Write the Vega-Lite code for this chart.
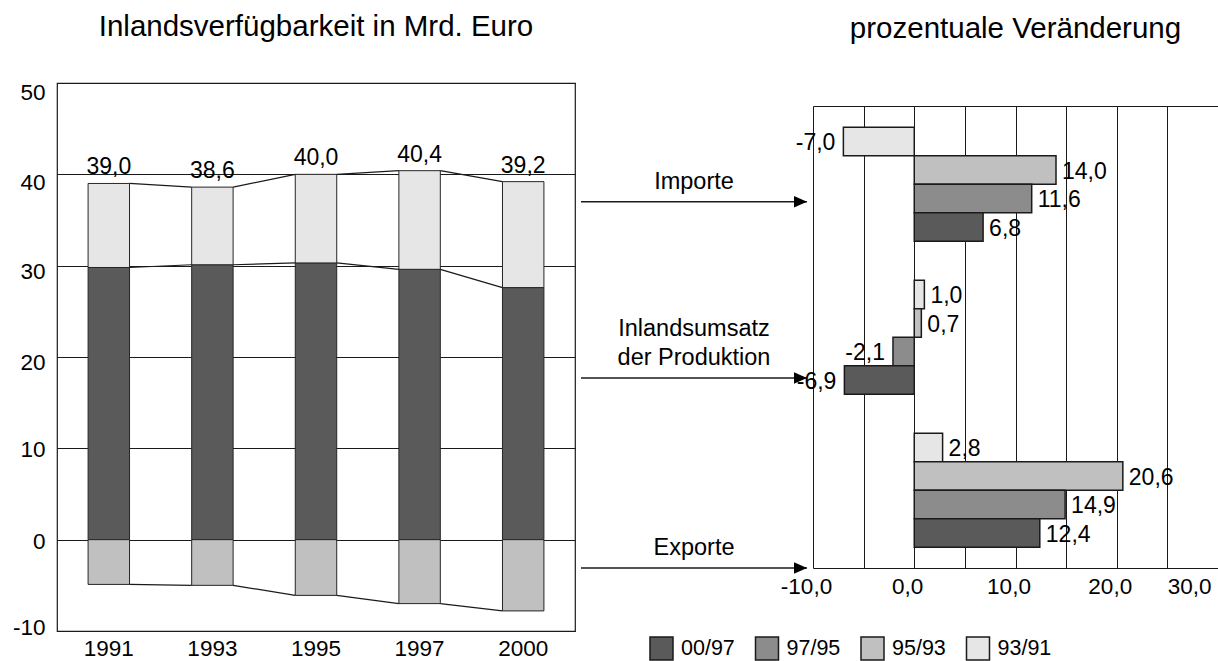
{
  "$schema": "https://vega.github.io/schema/vega-lite/v6.json",
  "background": "white",
  "padding": {"left": 11, "top": 10, "right": 0, "bottom": 0},
  "bounds": "flush",
  "spacing": 6,
  "datasets": {
    "bestand": [
      {"Jahr": "1991", "Komponente": "Inlandsumsatz der Produktion", "Wert": 29.8},
      {"Jahr": "1991", "Komponente": "Importe", "Wert": 9.2},
      {"Jahr": "1991", "Komponente": "Exporte", "Wert": -4.9},
      {"Jahr": "1993", "Komponente": "Inlandsumsatz der Produktion", "Wert": 30.1},
      {"Jahr": "1993", "Komponente": "Importe", "Wert": 8.5},
      {"Jahr": "1993", "Komponente": "Exporte", "Wert": -5.0},
      {"Jahr": "1995", "Komponente": "Inlandsumsatz der Produktion", "Wert": 30.3},
      {"Jahr": "1995", "Komponente": "Importe", "Wert": 9.7},
      {"Jahr": "1995", "Komponente": "Exporte", "Wert": -6.1},
      {"Jahr": "1997", "Komponente": "Inlandsumsatz der Produktion", "Wert": 29.6},
      {"Jahr": "1997", "Komponente": "Importe", "Wert": 10.8},
      {"Jahr": "1997", "Komponente": "Exporte", "Wert": -7.0},
      {"Jahr": "2000", "Komponente": "Inlandsumsatz der Produktion", "Wert": 27.6},
      {"Jahr": "2000", "Komponente": "Importe", "Wert": 11.6},
      {"Jahr": "2000", "Komponente": "Exporte", "Wert": -7.8}
    ],
    "pfeile": [
      {"Kategorie": "Importe", "Label": "Importe", "Hoehe": 37.0},
      {"Kategorie": "Inlandsumsatz der Produktion", "Label": "Inlandsumsatz\nder Produktion", "Hoehe": 17.7},
      {"Kategorie": "Exporte", "Label": "Exporte", "Hoehe": -3.1}
    ],
    "veraenderung": [
      {"Kategorie": "Importe", "Zeitraum": "93/91", "Wert": -7.0},
      {"Kategorie": "Importe", "Zeitraum": "95/93", "Wert": 14.0},
      {"Kategorie": "Importe", "Zeitraum": "97/95", "Wert": 11.6},
      {"Kategorie": "Importe", "Zeitraum": "00/97", "Wert": 6.8},
      {"Kategorie": "Inlandsumsatz der Produktion", "Zeitraum": "93/91", "Wert": 1.0},
      {"Kategorie": "Inlandsumsatz der Produktion", "Zeitraum": "95/93", "Wert": 0.7},
      {"Kategorie": "Inlandsumsatz der Produktion", "Zeitraum": "97/95", "Wert": -2.1},
      {"Kategorie": "Inlandsumsatz der Produktion", "Zeitraum": "00/97", "Wert": -6.9},
      {"Kategorie": "Exporte", "Zeitraum": "93/91", "Wert": 2.8},
      {"Kategorie": "Exporte", "Zeitraum": "95/93", "Wert": 20.6},
      {"Kategorie": "Exporte", "Zeitraum": "97/95", "Wert": 14.9},
      {"Kategorie": "Exporte", "Zeitraum": "00/97", "Wert": 12.4}
    ]
  },
  "hconcat": [
    {
      "width": 518,
      "height": 548,
      "title": {"text": "Inlandsverfügbarkeit in Mrd. Euro", "frame": "group", "anchor": "middle", "baseline": "alphabetic", "offset": 16},
      "data": {"name": "bestand"},
      "transform": [
        {"stack": "Wert", "groupby": ["Jahr"], "sort": [{"field": "Komponente", "order": "descending"}], "as": ["unten", "oben"]}
      ],
      "layer": [
        {
          "mark": {"type": "bar", "stroke": "#262626", "strokeWidth": 1},
          "encoding": {
            "x": {"field": "Jahr", "type": "ordinal", "title": null,
                  "scale": {"paddingInner": 0.6, "paddingOuter": 0.3},
                  "axis": {"labelAngle": 0, "ticks": false, "domain": false, "labelPadding": 6, "grid": false}},
            "y": {"field": "oben", "type": "quantitative", "title": null,
                  "scale": {"domain": [-10, 50], "nice": false, "zero": false},
                  "axis": {"values": [-10, 0, 10, 20, 30, 40, 50], "format": "d", "grid": true, "gridColor": "#1a1a1a", "gridWidth": 1, "gridOpacity": 1, "ticks": false, "domain": false, "labelPadding": 12,
                           "labelOffset": {"condition": [
                             {"test": "datum.value == 50", "value": 9},
                             {"test": "datum.value == 40", "value": 8},
                             {"test": "datum.value == 30", "value": 6},
                             {"test": "datum.value == 20", "value": 5},
                             {"test": "datum.value == 10", "value": 1},
                             {"test": "datum.value == 0", "value": 2}
                           ], "value": -4}}},
            "y2": {"field": "unten"},
            "fill": {"field": "Komponente", "type": "nominal", "legend": null,
                     "scale": {"domain": ["Inlandsumsatz der Produktion", "Importe", "Exporte"], "range": ["#5a5a5a", "#e6e6e6", "#c0c0c0"]}}
          }
        },
        {
          "transform": [
            {"window": [{"op": "lead", "field": "oben", "as": "obenNext"}, {"op": "lead", "field": "Jahr", "as": "JahrNext"}], "groupby": ["Komponente"], "sort": [{"field": "Jahr", "order": "ascending"}]},
            {"filter": "datum.JahrNext != null"}
          ],
          "mark": {"type": "rule", "color": "#1a1a1a", "strokeWidth": 1.2},
          "encoding": {
            "x": {"field": "Jahr", "type": "ordinal", "bandPosition": 1},
            "x2": {"field": "JahrNext", "bandPosition": 0},
            "y": {"field": "oben", "type": "quantitative"},
            "y2": {"field": "obenNext"}
          }
        },
        {
          "transform": [{"filter": "datum.Komponente == 'Importe'"}],
          "mark": {"type": "text", "baseline": "bottom", "dy": -4, "fontSize": 23, "color": "#000"},
          "encoding": {
            "x": {"field": "Jahr", "type": "ordinal"},
            "y": {"field": "oben", "type": "quantitative"},
            "text": {"field": "oben", "type": "quantitative", "format": ".1f"}
          }
        }
      ]
    },
    {
      "width": 226,
      "height": 548,
      "view": {"stroke": null},
      "data": {"name": "pfeile"},
      "encoding": {
        "y": {"field": "Hoehe", "type": "quantitative", "scale": {"domain": [-10, 50], "nice": false, "zero": false}, "axis": null}
      },
      "layer": [
        {"mark": {"type": "rule", "color": "#1a1a1a", "strokeWidth": 1.5}, "encoding": {}},
        {"mark": {"type": "point", "shape": "M-1,-0.45L0,0L-1,0.45Z", "filled": true, "size": 676, "color": "#000", "opacity": 1, "strokeWidth": 0},
         "encoding": {"x": {"value": "width"}}},
        {"transform": [{"filter": "datum.Kategorie != 'Inlandsumsatz der Produktion'"}],
         "mark": {"type": "text", "baseline": "bottom", "dy": -8, "fontSize": 23.5, "color": "#000"},
         "encoding": {"text": {"field": "Label", "type": "nominal"}}},
        {"transform": [{"filter": "datum.Kategorie == 'Inlandsumsatz der Produktion'"}],
         "mark": {"type": "text", "baseline": "bottom", "dy": -37, "fontSize": 23.5, "lineBreak": "\n", "lineHeight": 29, "color": "#000"},
         "encoding": {"text": {"field": "Label", "type": "nominal"}}}
      ]
    },
    {
      "width": 405,
      "height": 485,
      "view": {"stroke": null},
      "title": {"text": "prozentuale Veränderung", "frame": "group", "anchor": "middle", "baseline": "alphabetic", "offset": 16},
      "data": {"name": "veraenderung"},
      "encoding": {
        "y": {"field": "Kategorie", "type": "nominal", "sort": ["Importe", "Inlandsumsatz der Produktion", "Exporte"],
              "scale": {"paddingInner": 0.255, "paddingOuter": 0.2125, "align": 0.68}, "axis": null},
        "yOffset": {"field": "Zeitraum", "type": "nominal", "sort": ["93/91", "95/93", "97/95", "00/97"],
                    "scale": {"paddingInner": 0, "paddingOuter": 0}}
      },
      "layer": [
        {
          "mark": {"type": "bar", "stroke": "#1a1a1a", "strokeWidth": 1.5},
          "encoding": {
            "x": {"field": "Wert", "type": "quantitative", "stack": null, "title": null,
                  "scale": {"domain": [-10, 30], "nice": false},
                  "axis": {"orient": "bottom", "values": [-10, 0, 10, 20, 30], "format": ".1f", "ticks": false, "grid": false, "domain": true, "domainColor": "#1a1a1a", "domainWidth": 1.2, "labelPadding": 7, "labelOffset": -7,
                           "labelAlign": {"condition": {"test": "datum.value == 30", "value": "right"}, "value": "center"}}},
            "color": {"field": "Zeitraum", "type": "nominal",
                      "scale": {"domain": ["00/97", "97/95", "95/93", "93/91"], "range": ["#5a5a5a", "#8c8c8c", "#c0c0c0", "#e6e6e6"]},
                      "legend": {"orient": "none", "legendX": -164, "legendY": 553, "direction": "horizontal", "title": null,
                                 "symbolType": "square", "symbolSize": 529, "symbolStrokeColor": "#1a1a1a", "symbolStrokeWidth": 1.5, "symbolOpacity": 1,
                                 "labelFontSize": 21.5, "labelOffset": 7, "columnPadding": 17.5, "labelColor": "#000"}}
          }
        },
        {
          "transform": [{"filter": "datum.Wert >= 0"}],
          "mark": {"type": "text", "align": "left", "baseline": "middle", "dx": 6, "dy": 2, "fontSize": 23, "color": "#000"},
          "encoding": {
            "x": {"field": "Wert", "type": "quantitative", "title": null,
                  "axis": {"orient": "top", "offset": -23, "values": [-10, -5, 0, 5, 10, 15, 20, 25], "labels": false, "ticks": true, "tickSize": -462, "tickColor": "#1a1a1a", "tickWidth": 1, "domain": true, "domainColor": "#1a1a1a", "domainWidth": 1.2, "grid": false}},
            "text": {"field": "Wert", "type": "quantitative", "format": ".1f"}
          }
        },
        {
          "transform": [{"filter": "datum.Wert < 0"}],
          "mark": {"type": "text", "align": "right", "baseline": "middle", "dx": -8, "dy": 2, "fontSize": 23, "color": "#000"},
          "encoding": {
            "x": {"field": "Wert", "type": "quantitative", "axis": null},
            "text": {"field": "Wert", "type": "quantitative", "format": ".1f"}
          }
        }
      ],
      "resolve": {"axis": {"x": "independent"}}
    }
  ],
  "resolve": {"scale": {"color": "independent", "fill": "independent"}, "legend": {"color": "independent", "fill": "independent"}},
  "config": {
    "font": "Liberation Sans",
    "view": {"stroke": "#1a1a1a", "strokeWidth": 1.2},
    "axis": {"labelFontSize": 22.5, "labelColor": "#000", "labelFont": "Liberation Sans"},
    "title": {"fontSize": 29.5, "fontWeight": "normal", "color": "#000", "font": "Liberation Sans"},
    "legend": {"labelFont": "Liberation Sans"},
    "locale": {"number": {"decimal": ",", "thousands": ".", "grouping": [3], "currency": ["", " €"], "minus": "-"}}
  }
}
